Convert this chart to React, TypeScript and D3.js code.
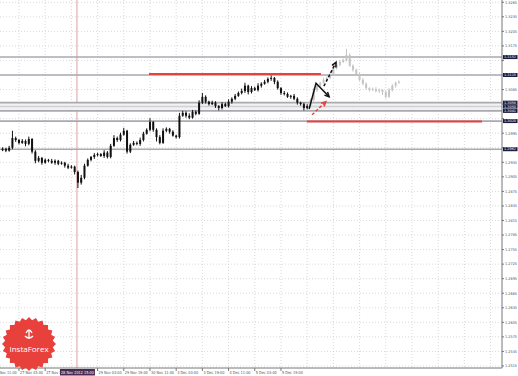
import React from "react";
import * as d3 from "d3";

const startOpen = 1.2960;
const closes = [
  1.2963,1.2959,1.2965,1.2985,1.2981,1.2975,1.2979,1.2973,1.2983,1.2957,
  1.2938,1.2944,1.2934,1.2940,1.2938,1.2934,1.2938,1.2932,1.2934,1.2928,
  1.2924,1.2926,1.2915,1.2893,1.2903,1.2928,1.2940,1.2946,1.2950,1.2952,
  1.2948,1.2955,1.2946,1.2969,1.2985,1.2981,1.2992,1.3000,1.2957,1.2971,
  1.2975,1.2973,1.2981,1.2994,1.3002,1.3018,1.3002,1.2987,1.2975,1.3000,
  1.3004,1.2998,1.2990,1.2987,1.3031,1.3037,1.3031,1.3027,1.3039,1.3035,
  1.3058,1.3070,1.3060,1.3055,1.3058,1.3051,1.3047,1.3055,1.3051,1.3060,
  1.3066,1.3072,1.3078,1.3082,1.3093,1.3080,1.3088,1.3084,1.3093,1.3097,
  1.3101,1.3107,1.3109,1.3101,1.3088,1.3078,1.3076,1.3070,1.3072,1.3066,
  1.3058,1.3055,1.3047,1.3051,
];
const upWick = [
  3,2,4,15,3,2,4,3,5,2, 3,4,2,3,2,4,3,2,3,2, 4,3,2,3,6,4,3,2,4,3,
  2,5,3,4,6,3,4,6,2,3, 4,3,5,4,3,8,2,3,4,5, 3,2,3,2,6,4,3,5,4,3,
  5,8,3,2,4,3,2,4,3,5, 3,4,3,5,6,2,4,3,5,3, 4,3,5,2,3,2,4,3,2,4, 3,2,3,4,
];
const dnWick = [
  2,3,2,3,4,3,2,5,3,4, 5,3,4,2,3,2,4,3,2,4, 3,2,5,11,4,3,2,3,4,3,
  2,4,3,3,2,4,3,2,4,3, 2,3,4,3,2,3,4,9,3,2, 3,4,2,3,3,2,4,3,2,3,
  2,3,4,3,2,4,5,3,2,3, 4,3,2,3,4,5,3,2,3,4, 2,3,4,5,3,4,3,2,4,3, 4,3,5,3,
];
const fcCloses = [
  1.3064,1.3084,1.3093,1.3099,1.3105,1.3109,1.3117,1.3130,1.3136,1.3142,
  1.3146,1.3156,1.3134,1.3126,1.3117,1.3105,1.3097,1.3088,1.3084,1.3086,
  1.3082,1.3084,1.3080,1.3070,1.3084,1.3093,1.3099,1.3101,
];
const fcUp = [3,4,3,2,4,3,5,4,3,4, 3,13,4,3,2,3,4,3,2,3, 4,3,2,3,4,3,2,3];
const fcDn = [2,3,4,3,2,3,2,3,4,3, 2,3,2,4,3,2,3,4,3,2, 3,4,6,3,2,3,4,2];

const timeLabels = ["26 Nov 11:00","27 Nov 03:00","27 Nov 19:00","29 Nov 03:00","29 Nov 19:00","30 Nov 11:00","3 Dec 03:00","3 Dec 19:00","4 Dec 11:00","5 Dec 03:00","5 Dec 19:00"];
const timeLabelBars = [-3,5,13,29,37,45,53,61,69,77,85];
const gridBars = [-3,5,13,21,29,37,45,53,61,69,77,85,93,101,109,117,125,133,141,149];
const priceTicks = d3.range(26).map((i) => +(1.3265 - i * 0.003).toFixed(4));

const greyLevels = [1.3152, 1.3115, 1.3058, 1.3050, 1.3041, 1.3020, 1.2962];
const levelStrength = [1, 1, 1, 0.45, 1, 1, 1];
const redLevels = [
  { price: 1.3117, from: 44.7, to: 97.2 },
  { price: 1.3019, from: 92.9, to: 146.4 },
];
const cursorBar = 22.7;
const cursorLabel = "28 Nov 2012 15:00";

const solidArrow: [number, number][] = [[93.6, 1.3045], [95.7, 1.3098], [99.7, 1.3070]];
const dashArrow: [number, number][] = [[98.1, 1.3092], [101.8, 1.3141]];
const redArrow: [number, number][] = [[94.5, 1.3033], [98.7, 1.3060]];

const W = 518, H = 376, PR = 502, PB = 368;

export default function App() {
  const x = d3.scaleLinear().domain([0, 150]).range([2.6, 2.6 + 150 * 3.275]);
  const y = d3.scaleLinear().domain([1.25108, 1.32697]).range([PB, 0]);
  const pip = 0.0001;

  const mk = (cl: number[], up: number[], dn: number[], first: number, offset: number) =>
    cl.map((c, i) => {
      const o = i === 0 ? first : cl[i - 1];
      return { i: i + offset, o, c, h: Math.max(o, c) + up[i] * pip, l: Math.min(o, c) - dn[i] * pip };
    });
  const real = mk(closes, upWick, dnWick, startOpen, 0);
  const fc = mk(fcCloses, fcUp, fcDn, closes[closes.length - 1], closes.length);

  const line = d3.line<[number, number]>().x((d) => x(d[0])).y((d) => y(d[1]));

  const arrowHead = (pts: [number, number][], color: string, key: string) => {
    const a = pts[pts.length - 2], b = pts[pts.length - 1];
    const x1 = x(a[0]), y1 = y(a[1]), x2 = x(b[0]), y2 = y(b[1]);
    const ang = Math.atan2(y2 - y1, x2 - x1);
    const L = 5, sp = 0.45;
    const p1 = [x2 - L * Math.cos(ang - sp), y2 - L * Math.sin(ang - sp)];
    const p2 = [x2 - L * Math.cos(ang + sp), y2 - L * Math.sin(ang + sp)];
    return <path key={key} d={`M${p1[0]},${p1[1]}L${x2},${y2}L${p2[0]},${p2[1]}`} fill="none" stroke={color} strokeWidth={1.5} />;
  };

  const candle = (d: any, col: string, k: string) => {
    const cx = x(d.i);
    const top = y(Math.max(d.o, d.c)), bot = y(Math.min(d.o, d.c));
    return (
      <g key={k}>
        <line x1={cx} x2={cx} y1={y(d.h)} y2={y(d.l)} stroke={col} strokeWidth={1} />
        <rect x={cx - 1} y={top} width={2} height={Math.max(1, bot - top)} fill={col} />
      </g>
    );
  };

  const star = d3.range(48).map((k) => {
    const a = (k / 48) * Math.PI * 2;
    const r = k % 2 === 0 ? 27 : 24;
    return [29 + r * Math.cos(a), 344 + r * Math.sin(a)];
  });

  const font = "'DejaVu Sans', sans-serif";
  const nearBox = (p: number) => greyLevels.some((g) => Math.abs(y(g) - y(p)) < 5.5);

  return (
    <svg width={W} height={H} style={{ position: "fixed", left: 0, top: 0, background: "#fff" }} fontFamily={font}>
      <rect x={0} y={0} width={W} height={H} fill="#fff" />
      {/* grid */}
      {priceTicks.map((p) => (
        <line key={"hg" + p} x1={0} x2={PR} y1={y(p)} y2={y(p)} stroke="#cfcfcf" strokeWidth={0.8} strokeDasharray="1,2" />
      ))}
      {gridBars.filter((b) => x(b) > 0 && x(b) < PR).map((b) => (
        <line key={"vg" + b} x1={x(b)} x2={x(b)} y1={0} y2={PB} stroke="#cfcfcf" strokeWidth={0.8} strokeDasharray="1,2" />
      ))}
      {/* cursor vertical */}
      <line x1={x(cursorBar)} x2={x(cursorBar)} y1={0} y2={PB} stroke="#d9a0a8" strokeWidth={1} />
      {/* level band */}
      <rect x={0} y={y(1.3058)} width={PR} height={y(1.3041) - y(1.3058)} fill="#f2f2f2" />
      {greyLevels.map((p, i) => (
        <line key={"gl" + p} x1={0} x2={PR} y1={y(p)} y2={y(p)} stroke="#a9a9b0" strokeOpacity={levelStrength[i]} strokeWidth={1.6} />
      ))}
      {redLevels.map((r) => (
        <line key={"rl" + r.price} x1={x(r.from)} x2={x(r.to)} y1={y(r.price)} y2={y(r.price)} stroke="#e8413c" strokeWidth={2} />
      ))}
      {/* candles */}
      {fc.map((d, k) => candle(d, "#c4c4c4", "f" + k))}
      {real.map((d, k) => candle(d, "#111", "r" + k))}
      {/* arrows */}
      <path d={line(solidArrow) || ""} fill="none" stroke="#111" strokeWidth={1.5} />
      {arrowHead(solidArrow, "#111", "ah1")}
      <path d={line(dashArrow) || ""} fill="none" stroke="#111" strokeWidth={1.5} strokeDasharray="3,2" />
      {arrowHead(dashArrow, "#111", "ah2")}
      <path d={line(redArrow) || ""} fill="none" stroke="#e8413c" strokeWidth={1.5} strokeDasharray="3,2" />
      {arrowHead(redArrow, "#e8413c", "ah3")}
      {/* axes */}
      <line x1={PR} x2={PR} y1={0} y2={PB} stroke="#777" strokeWidth={1} />
      <line x1={0} x2={PR} y1={PB} y2={PB} stroke="#777" strokeWidth={1} />
      {priceTicks.map((p) => (
        <g key={"pt" + p}>
          <line x1={PR} x2={PR + 2} y1={y(p)} y2={y(p)} stroke="#777" />
          {!nearBox(p) && (
            <text x={PR + 3} y={y(p)} dy="0.35em" fontSize={3.8} fill="#555" textLength={12} lengthAdjust="spacingAndGlyphs">{p.toFixed(4)}</text>
          )}
        </g>
      ))}
      {greyLevels.map((p) => (
        <g key={"pb" + p}>
          <rect x={PR + 1} y={y(p) - 2} width={14.5} height={4} fill="#1c1c3c" />
          <text x={PR + 2} y={y(p)} dy="0.35em" fontSize={3.4} fill="#fff" textLength={12} lengthAdjust="spacingAndGlyphs">{p.toFixed(4)}</text>
        </g>
      ))}
      {timeLabels.map((t, i) => (
        <g key={"tl" + t}>
          <line x1={x(timeLabelBars[i])} x2={x(timeLabelBars[i])} y1={PB} y2={PB + 3} stroke="#777" />
          <text x={x(timeLabelBars[i]) + 1} y={PB + 5.5} fontSize={4} fill="#555" textLength={t.length > 11 ? 23 : 21} lengthAdjust="spacingAndGlyphs">{t}</text>
        </g>
      ))}
      <rect x={x(cursorBar) - 17} y={PB + 1} width={35} height={6.5} fill="#4b2a52" />
      <text x={x(cursorBar) - 16} y={PB + 5.7} fontSize={4} fill="#fff" textLength={33} lengthAdjust="spacingAndGlyphs">{cursorLabel}</text>
      {/* logo */}
      <polygon points={star.map((p) => p.join(",")).join(" ")} fill="#e8413c" />
      <path d="M26,333 q3,-6 6,0 M29,331 v8 M25,336 q4,4 8,0" fill="none" stroke="#fff" strokeWidth={1.3} />
      <text x={29} y={352} fontSize={8} fill="#fff" textAnchor="middle" fontFamily="'Open Sans', sans-serif">InstaForex</text>
    </svg>
  );
}
